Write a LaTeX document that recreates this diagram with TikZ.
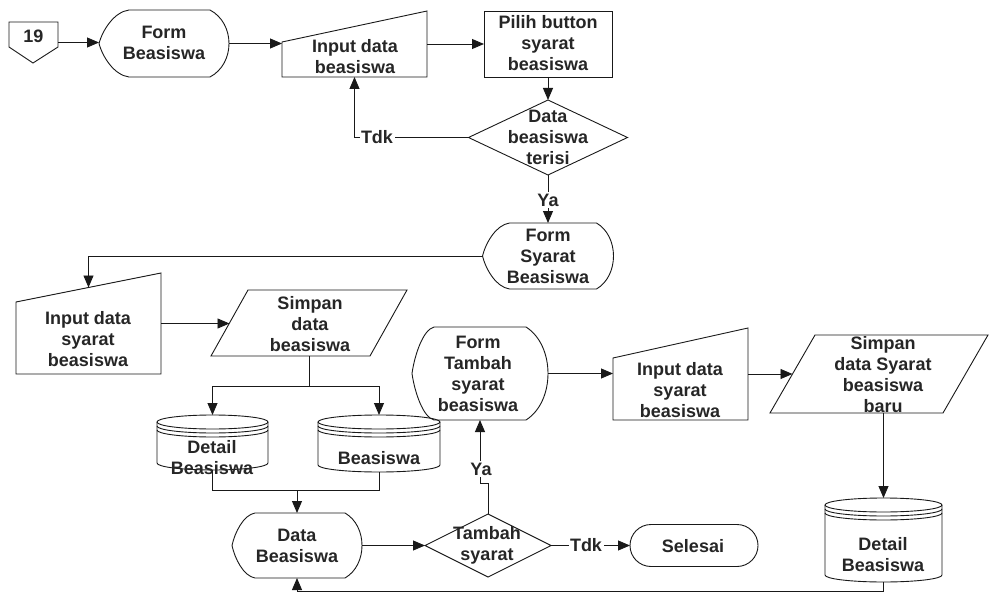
\documentclass[tikz,border=0pt]{standalone}
\usepackage{fontspec}
\setmainfont{Liberation Sans}
\usetikzlibrary{arrows.meta,calc}

\tikzset{
  ln/.style={line width=0.9pt, draw=black!90},
  arr/.style={ln, -{Triangle[length=12pt,width=10pt]}},
  txt/.style={font=\fontsize{18}{21}\selectfont\bfseries, text=black!85, align=center, inner sep=0pt},
  lbl/.style={txt, fill=white, inner sep=1.5pt},
  shp/.style={draw=none, inner sep=0pt, outer sep=0pt},
}

% invisible frame node that carries the anchors of a symbol
\newcommand{\frm}[5]{\node[shp, minimum width=#4pt, minimum height=#5pt] (#1) at (#2,#3) {};}

% display symbol: name, cx, cy, w, h, left inset, right inset
\newcommand{\dispsym}[7]{%
  \frm{#1}{#2}{#3}{#4}{#5}
  \begin{scope}[shift={(#2,#3)}]
    \draw[ln] ({-#4/2+#6},{-#5/2}) -- ({#4/2-#7},{-#5/2})
      .. controls ({#4/2+#7/3},{-#5/2+0.2*#5}) and ({#4/2+#7/3},{#5/2-0.2*#5}) .. ({#4/2-#7},{#5/2})
      -- ({-#4/2+#6},{#5/2})
      .. controls ({-#4/2+0.5*#6},{#5/2-0.03*#5}) and ({-#4/2+0.12*#6},{0.2*#5}) .. ({-#4/2},0)
      .. controls ({-#4/2+0.12*#6},{-0.2*#5}) and ({-#4/2+0.5*#6},{-#5/2+0.03*#5}) .. cycle;
  \end{scope}}

% manual input: name, cx, cy, w, h, rise of the top edge
\newcommand{\mansym}[6]{%
  \frm{#1}{#2}{#3}{#4}{#5}
  \begin{scope}[shift={(#2,#3)}]
    \draw[ln] ({-#4/2},{-#5/2+#6}) -- ({#4/2},{-#5/2}) -- ({#4/2},{#5/2}) -- ({-#4/2},{#5/2}) -- cycle;
    \coordinate (#1-top) at (0,{-#5/2+#6/2});
  \end{scope}}

% data (parallelogram): name, cx, cy, w, h, slant
\newcommand{\datsym}[6]{%
  \frm{#1}{#2}{#3}{#4}{#5}
  \begin{scope}[shift={(#2,#3)}]
    \draw[ln] ({-#4/2+#6},{-#5/2}) -- ({#4/2},{-#5/2}) -- ({#4/2-#6},{#5/2}) -- ({-#4/2},{#5/2}) -- cycle;
    \coordinate (#1-in) at ({-#4/2+#6/2},0);
  \end{scope}}

% stored data (cylinder): name, cx, cy, w, h
\newcommand{\cylsym}[5]{%
  \frm{#1}{#2}{#3}{#4}{#5}
  \begin{scope}[shift={(#2,#3)}]
    \draw[ln] ({-#4/2},{-#5/2+7}) -- ({-#4/2},{#5/2-7})
      arc[start angle=180, end angle=0, x radius={#4/2}, y radius=7] -- ({#4/2},{-#5/2+7});
    \draw[ln] (0,{-#5/2+7}) ellipse[x radius={#4/2}, y radius=7];
    \draw[ln] ({-#4/2},{-#5/2+11}) arc[start angle=180, end angle=0, x radius={#4/2}, y radius=7];
    \draw[ln] ({-#4/2},{-#5/2+15}) arc[start angle=180, end angle=0, x radius={#4/2}, y radius=7];
  \end{scope}}

% decision diamond: name, cx, cy, w, h
\newcommand{\decsym}[5]{%
  \frm{#1}{#2}{#3}{#4}{#5}
  \begin{scope}[shift={(#2,#3)}]
    \draw[ln] (0,{-#5/2}) -- ({#4/2},0) -- (0,{#5/2}) -- ({-#4/2},0) -- cycle;
  \end{scope}}

% process rectangle: name, cx, cy, w, h
\newcommand{\procsym}[5]{%
  \frm{#1}{#2}{#3}{#4}{#5}
  \begin{scope}[shift={(#2,#3)}]
    \draw[ln] ({-#4/2},{-#5/2}) rectangle ({#4/2},{#5/2});
  \end{scope}}

\begin{document}
\begin{tikzpicture}[x=1pt, y=-1pt]
  \fill[white] (0,0) rectangle (989,594);
  \useasboundingbox (0,0) rectangle (989,594);

  % off-page connector
  \frm{op}{33.5}{42.5}{49}{41}
  \draw[ln] (9,22) -- (58,22) -- (58,47) -- (33,63) -- (9,47) -- cycle;
  \node[txt] (op-t) at (33.5,36) {19};

  % first row
  \dispsym{fb}{164}{43.5}{130}{67}{30}{19}
  \node[txt] (fb-t) at (164,43) {Form\\Beasiswa};

  \mansym{in1}{354.5}{44}{145}{66}{31}
  \node[txt] (in1-t) at (355,57) {Input data\\beasiswa};

  \procsym{pb}{548}{44}{128}{66}
  \node[txt] (pb-t) at (548,43) {Pilih button\\syarat\\beasiswa};

  \decsym{dk}{548}{137.5}{159}{75}
  \node[txt] (dk-t) at (548,137) {Data\\beasiswa\\terisi};

  \dispsym{fs}{548}{256}{131}{66}{27}{17}
  \node[txt] (fs-t) at (548,256) {Form\\Syarat\\Beasiswa};

  % second part
  \mansym{is1}{88.5}{323.5}{145}{101}{29}
  \node[txt] (is1-t) at (88,339) {Input data\\syarat\\beasiswa};

  \datsym{sd1}{309}{323}{196}{66}{37}
  \node[txt] (sd1-t) at (310,324) {Simpan\\data\\beasiswa};

  \cylsym{cy1}{212.5}{442.5}{111}{55}
  \node[txt] (cy1-t) at (212,458) {Detail\\Beasiswa};

  \cylsym{cy2}{379}{443.5}{122}{57}
  \node[txt] (cy2-t) at (379,458) {Beasiswa};

  \dispsym{db}{297}{545.5}{130}{65}{23}{17}
  \node[txt] (db-t) at (297,546) {Data\\Beasiswa};

  \decsym{ts}{488}{545.5}{126}{63}
  \node[txt] (ts-t) at (487,545) {Tambah\\syarat};

  \frm{sel}{694}{545.5}{128}{42}
  \draw[ln, rounded corners=21pt] (630,524.5) rectangle (758,566.5);
  \node[txt] (sel-t) at (693,546) {Selesai};

  \dispsym{ft}{480}{373.5}{136}{93}{22}{22}
  \node[txt] (ft-t) at (478,374) {Form\\Tambah\\syarat\\beasiswa};

  \mansym{is2}{680.5}{374}{135}{92}{30}
  \node[txt] (is2-t) at (680,390) {Input data\\syarat\\beasiswa};

  \datsym{sd2}{879}{374}{218}{78}{45}
  \node[txt] (sd2-t) at (883,375) {Simpan\\data Syarat\\beasiswa\\baru};

  \cylsym{cy3}{883.5}{540}{117}{84}
  \node[txt] (cy3-t) at (883,555) {Detail\\Beasiswa};

  % connectors
  \draw[arr] (op.east) -- (op.east -| fb.west);
  \draw[arr] (fb.east) -- (fb.east -| in1.west);
  \draw[arr] (in1.east) -- (in1.east -| pb.west);
  \draw[arr] (pb.south) -- (dk.north);
  \draw[arr] (dk.west) -| (in1.south);
  \node[lbl] (tdk1) at (377,137.5) {Tdk};
  \draw[arr] (dk.south) -- (fs.north);
  \node[lbl] (ya1) at (548,200) {Ya};
  \draw[arr] (fs.west) -| (is1-top);
  \draw[arr] (is1.east) -- (is1.east -| sd1-in);

  \draw[ln] (sd1.south) -- ++(0,30) coordinate (split);
  \draw[arr] (split) -| (cy1.north);
  \draw[arr] (split) -| (cy2.north);

  \coordinate (merge) at (297,490);
  \draw[ln] (cy1.south) |- (merge);
  \draw[ln] (cy2.south) |- (merge);
  \draw[arr] (merge) -- (db.north);

  \draw[arr] (db.east) -- (ts.west);
  \draw[arr] (ts.east) -- (sel.west);
  \node[lbl] (tdk2) at (586,545.5) {Tdk};

  \coordinate (jog) at (480,483);
  \draw[arr] (ts.north) |- (jog) -- (ft.south);
  \node[lbl] (ya2) at (481,469) {Ya};

  \draw[arr] (ft.east) -- (ft.east -| is2.west);
  \draw[arr] (is2.east) -- (is2.east -| sd2-in);
  \draw[arr] (sd2.south -| cy3.north) -- (cy3.north);
  \draw[arr] (cy3.south) -- ++(0,9) -| (db.south);
\end{tikzpicture}
\end{document}
